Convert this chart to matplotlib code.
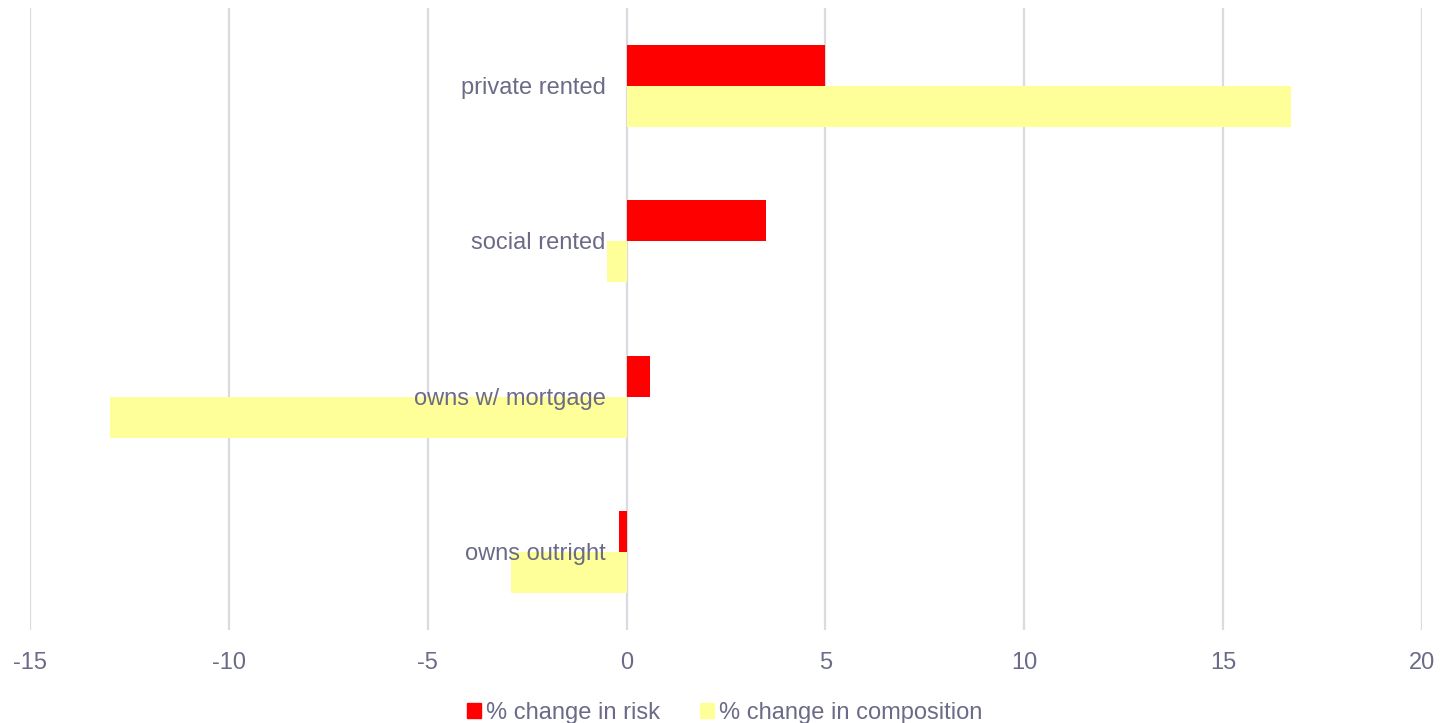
import matplotlib.pyplot as plt
from matplotlib.patches import Patch

# housing tenure categories, top to bottom
tenure = ["private rented", "social rented", "owns w/ mortgage", "owns outright"]
risk_change = [5.0, 3.5, 0.6, -0.2]
composition_change = [16.7, -0.5, -13.0, -2.9]
x_ticks = [-15, -10, -5, 0, 5, 10, 15, 20]

text_col = "#6b6b88"
red = "#ff0000"
yellow = "#ffff99"

plt.rcParams["font.family"] = ["Liberation Sans", "DejaVu Sans"]

fig = plt.figure(figsize=(14.43, 7.23), dpi=100)
ax = fig.add_axes([0.0208, 0.1286, 0.9646, 0.8604])

h = 0.264
pos = list(range(len(tenure)))
ax.barh([p - h / 2 for p in pos], risk_change, height=h, color=red, zorder=2)
ax.barh([p + h / 2 for p in pos], composition_change, height=h, color=yellow, zorder=2)

# category labels sit just left of the zero line
for p, name in zip(pos, tenure):
    ax.annotate(name, xy=(0, p), xytext=(-15, -1.5), textcoords="offset points",
                ha="right", va="center", fontsize=17, color=text_col, zorder=3)

ax.set_xlim(-15, 20)
ax.set_ylim(len(tenure) - 0.5, -0.5)
ax.set_xticks(x_ticks)
ax.set_xticklabels([str(t) for t in x_ticks])
ax.set_yticks([])
ax.tick_params(axis="x", length=0, pad=15.5, labelsize=17, labelcolor=text_col)
ax.grid(axis="x", color="#dadae0", linewidth=1.6, zorder=0)
for s in ax.spines.values():
    s.set_visible(False)

handles = [Patch(color=red, label="% change in risk"),
           Patch(color=yellow, label="% change in composition")]
fig.legend(handles=handles, loc="center", bbox_to_anchor=(0.502, 0.014), ncol=2,
           frameon=False, fontsize=17, labelcolor=text_col,
           handlelength=0.6, handleheight=0.6, handletextpad=0.2, columnspacing=1.7)

fig.savefig("out.png", dpi=100)
